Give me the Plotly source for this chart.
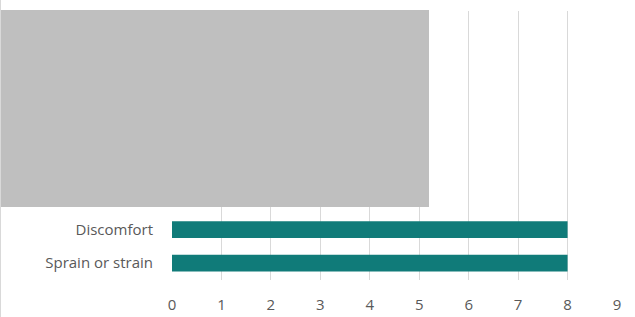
import plotly.graph_objects as go

categories = ["Sprain or strain", "Discomfort"]
values = [8, 8]
x_ticks = [0, 1, 2, 3, 4, 5, 6, 7, 8, 9]

BAR = "#107B79"
TXT = "#595959"
GRID = "#D9D9D9"

fig = go.Figure(go.Bar(
    y=categories, x=values, orientation="h",
    marker=dict(color=BAR, line=dict(width=0)),
    hoverinfo="skip",
))

fig.update_layout(
    width=635, height=317,
    margin=dict(l=172, r=18, t=11, b=37, autoexpand=False),
    paper_bgcolor="white", plot_bgcolor="white",
    bargap=0.5,
    showlegend=False,
    font=dict(family="Open Sans", size=15, color=TXT),
    xaxis=dict(
        range=[0, 9], tickvals=x_ticks, showgrid=True, gridcolor=GRID, gridwidth=1,
        zeroline=False, showline=False, ticks="outside", ticklen=11,
        tickcolor="rgba(0,0,0,0)", tickfont=dict(size=15, color=TXT),
        automargin=False,
    ),
    yaxis=dict(
        type="category", categoryorder="array", categoryarray=categories,
        range=[-0.5, 7.5], showgrid=False, zeroline=False, showline=False,
        ticks="outside", ticklen=15, tickcolor="rgba(0,0,0,0)",
        tickfont=dict(size=15, color=TXT), automargin=False,
    ),
    shapes=[
        dict(type="rect", xref="paper", yref="paper",
             x0=-172 / 445, x1=(429 - 172) / 445,
             y0=(280 - 207) / 269, y1=(280 - 10) / 269,
             fillcolor="#BFBFBF", line=dict(width=0), layer="above"),
        dict(type="line", xref="paper", yref="paper",
             x0=-171.5 / 445, x1=-171.5 / 445, y0=-37 / 269, y1=(280) / 269 + 11 / 269,
             line=dict(color="#D9D9D9", width=1)),
    ],
)

fig.write_html("out.html")
